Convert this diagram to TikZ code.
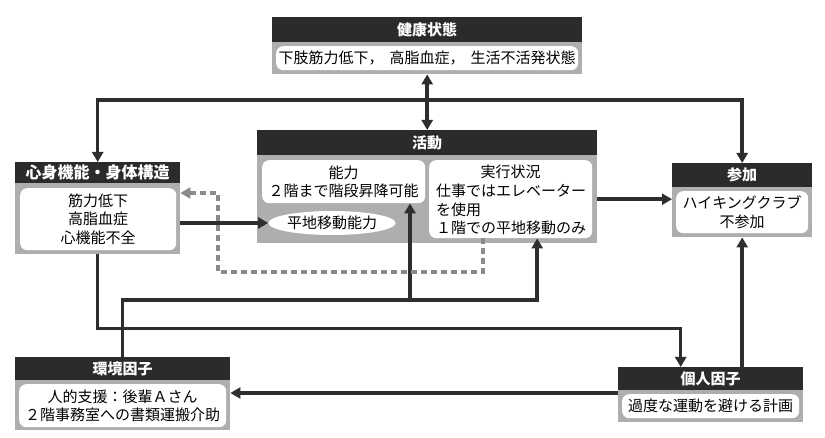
\documentclass[tikz,border=0pt]{standalone}
\usepackage{fontspec}
\setmainfont{Noto Sans CJK JP}
\usetikzlibrary{arrows.meta,shapes.geometric}
\definecolor{hdrc}{HTML}{2B2B2B}
\definecolor{bodyc}{HTML}{AEAEAE}
\definecolor{linec}{HTML}{2E2E2E}
\definecolor{dashc}{HTML}{8A8A8A}
\begin{document}
\begin{tikzpicture}[x=1pt,y=-1pt,
  hdr/.style={fill=hdrc,text=white,font=\fontsize{15}{18}\selectfont\bfseries,anchor=north west,inner sep=0pt},
  bod/.style={fill=bodyc,anchor=north west,inner sep=0pt},
  wbox/.style={fill=white,rounded corners=7pt,anchor=north west,inner sep=0pt,font=\fontsize{15}{18.5}\selectfont,align=center},
  txt/.style={font=\fontsize{15}{18.5}\selectfont,inner sep=0pt},
  conn/.style={draw=linec,line width=3.5pt},
  tip/.style={-{Triangle[length=10pt,width=11pt]}},
  tips/.style={{Triangle[length=10pt,width=11pt]}-{Triangle[length=10pt,width=11pt]}},
  dsh/.style={draw=dashc,line width=3.5pt,dash pattern=on 6pt off 4pt,-{Triangle[length=10pt,width=11pt]}}
]
\path[fill=white] (0,0) rectangle (825,438);
\useasboundingbox (0,0) rectangle (825,438);

% 健康状態
\node[hdr,minimum width=310pt,minimum height=25pt] (kenh) at (272,17) {健康状態};
\node[bod,minimum width=310pt,minimum height=32pt] (kenb) at (272,42) {};
\node[wbox,minimum width=302pt,minimum height=24pt] (kenw) at (276,46) {下肢筋力低下，\hspace{6pt}高脂血症，\hspace{6pt}生活不活発状態};

% 心身機能・身体構造
\node[hdr,minimum width=165pt,minimum height=21pt,font=\fontsize{16}{18}\selectfont\bfseries] (shinh) at (15,162) {心身機能・身体構造};
\node[bod,minimum width=165pt,minimum height=71pt] (shinb) at (15,183) {};
\node[wbox,minimum width=156pt,minimum height=62pt] (shinw) at (20,188) {筋力低下\\高脂血症\\心機能不全};

% 活動
\node[hdr,minimum width=340pt,minimum height=25pt] (katsh) at (257,130) {活動};
\node[bod,minimum width=340pt,minimum height=88pt] (katsb) at (257,155) {};
\node[wbox,minimum width=163pt,minimum height=43pt] (nouw) at (262,160) {能力\\２階まで階段昇降可能};
\node[wbox,minimum width=163pt,minimum height=78pt] (jikw) at (429,160) {};
\node[txt] (jikt) at (510.5,172) {実行状況};
\node[txt,anchor=north west,align=left] (jikx) at (436,184) {仕事ではエレベーター\\を使用\\１階での平地移動のみ};
\node[ellipse,fill=white,minimum width=113pt,minimum height=24pt,inner sep=0pt,font=\fontsize{15}{18}\selectfont] (hei) at (332,223) {平地移動能力};

% 参加
\node[hdr,minimum width=140pt,minimum height=24pt] (sanh) at (672,163) {参加};
\node[bod,minimum width=140pt,minimum height=50pt] (sanb) at (672,187) {};
\node[wbox,minimum width=132pt,minimum height=42pt] (sanw) at (676,191) {ハイキングクラブ\\不参加};

% 環境因子
\node[hdr,minimum width=215pt,minimum height=23pt] (kanh) at (15,357) {環境因子};
\node[bod,minimum width=215pt,minimum height=50pt] (kanb) at (15,380) {};
\node[wbox,minimum width=207pt,minimum height=43pt] (kanw) at (19,384) {人的支援：後輩Ａさん\\２階事務室への書類運搬介助};

% 個人因子
\node[hdr,minimum width=185pt,minimum height=23pt] (kojh) at (618,367) {個人因子};
\node[bod,minimum width=185pt,minimum height=32pt] (kojb) at (618,390) {};
\node[wbox,minimum width=177pt,minimum height=24pt] (kojw) at (622,394) {過度な運動を避ける計画};

% connectors
\draw[conn,tips] (kenb.south) -- (katsh.north);
\draw[conn,tips] (shinh.north) -- ++(0,-62) -| (sanh.north);
\draw[conn,tip] (shinb.east |- hei.west) -- (hei.west);
\draw[conn,tip] (katsb.east) -- (katsb.east -| sanb.west);
\draw[conn,tip] (shinb.south) -- ++(0,74) -| ([xshift=-30pt]kojh.north);
\draw[conn,tip] (kanh.north) -- ++(0,-57) coordinate (j0) -| ([xshift=26.5pt]jikw.south);
\coordinate (j1) at (410,300);
\draw[conn,tip] (j1) -- (j1 |- nouw.south);
\draw[conn,tip] (kojh.north -| sanb.south) -- (sanb.south);
\draw[conn,tip] ([yshift=-3pt]kojb.north west) -- ([yshift=-3pt]kojb.north west -| kanb.east);

\coordinate (dA) at (483,272);
\coordinate (dB) at (218,272);
\coordinate (dC) at (218,193);
\draw[dsh] (dA |- jikw.south) -- (dA) -- (dB) -- (dC) -- (dC -| shinb.east);
\end{tikzpicture}
\end{document}
